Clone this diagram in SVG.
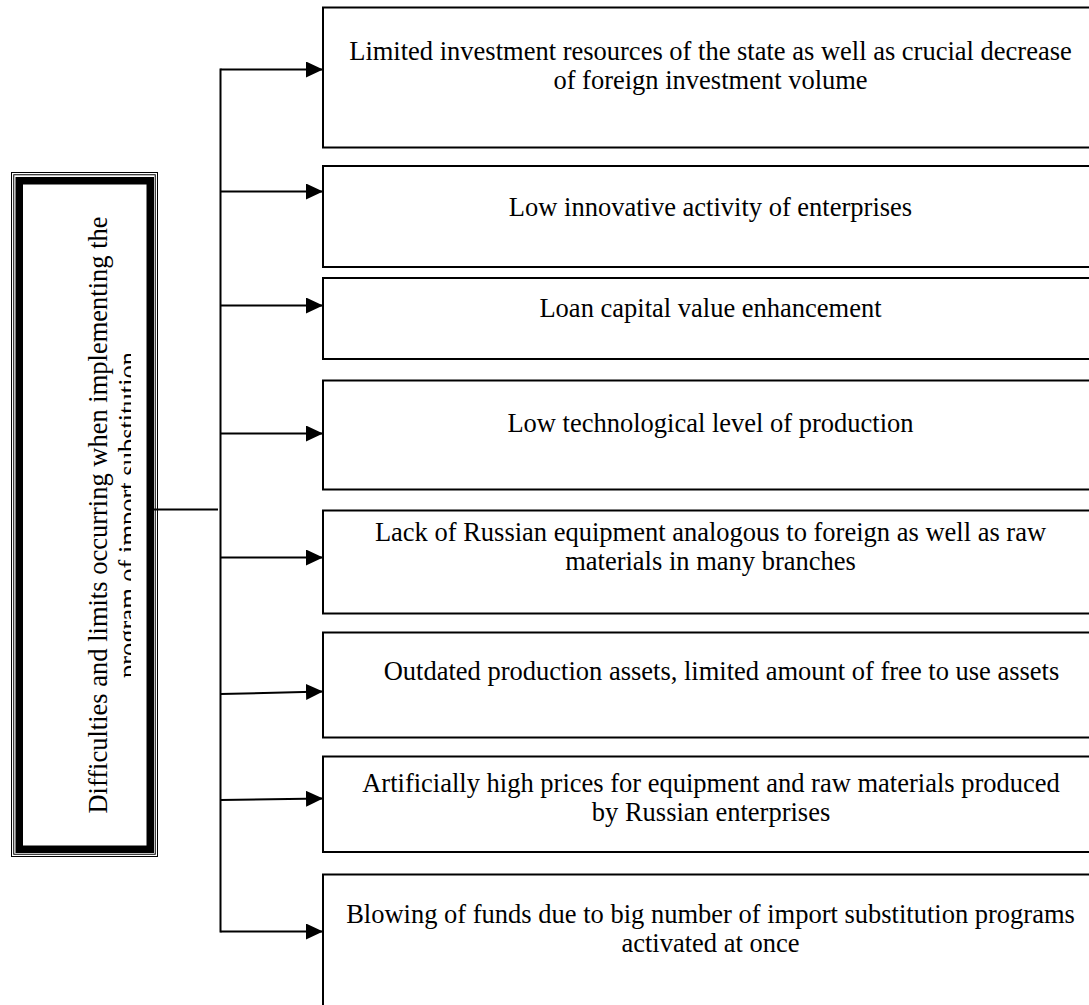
<svg xmlns="http://www.w3.org/2000/svg" width="1089" height="1005" viewBox="0 0 1089 1005">
<style>
.box{fill:#fff;stroke:#000;stroke-width:2}
.t{font-family:"Liberation Serif","Times New Roman",serif;font-size:26.5px;fill:#000;text-anchor:middle}
.c{stroke:#000;stroke-width:2;fill:none}
.ca{stroke:#000;stroke-width:2;fill:none;marker-end:url(#ah)}
</style>
<defs>
<marker id="ah" markerUnits="userSpaceOnUse" markerWidth="17" markerHeight="16" refX="17" refY="8" orient="auto" viewBox="0 0 17 16">
<path d="M0,0 L17,8 L0,16 z" fill="#000"/>
</marker>
<clipPath id="lclip"><rect x="23" y="185" width="108" height="664"/></clipPath>
</defs>
<rect width="1089" height="1005" fill="#fff"/>
<g id="main">
<rect x="11.5" y="172.5" width="146" height="684" fill="#fff" stroke="#000" stroke-width="1"/>
<rect x="13.75" y="174.75" width="141.5" height="679.5" fill="none" stroke="#000" stroke-width="1"/>
<rect x="19.25" y="180.75" width="131" height="668.5" fill="none" stroke="#000" stroke-width="7.5"/>
<g clip-path="url(#lclip)">
<text class="t" transform="translate(107,515) rotate(-90)">Difficulties and limits occurring when implementing the</text>
<text class="t" transform="translate(137,515) rotate(-90)">program of import substitution</text>
</g>
</g>
<g id="connectors">
<line class="c" x1="153" y1="509.5" x2="218" y2="509.5"/>
<line class="c" x1="220.5" y1="68.5" x2="220.5" y2="932.5"/>
<line class="ca" x1="220.5" y1="69.5" x2="323" y2="69.5"/>
<line class="ca" x1="220.5" y1="191.5" x2="323" y2="191.5"/>
<line class="ca" x1="220.5" y1="305.5" x2="323" y2="305.5"/>
<line class="ca" x1="220.5" y1="433.5" x2="323" y2="433.5"/>
<line class="ca" x1="220.5" y1="557.5" x2="323" y2="557.5"/>
<line class="ca" x1="220.5" y1="694" x2="323" y2="691.5"/>
<line class="ca" x1="220.5" y1="800" x2="323" y2="798.5"/>
<line class="ca" x1="220.5" y1="931.5" x2="323" y2="931.5"/>
</g>
<g id="n1"><rect class="box" x="323" y="7.5" width="800" height="140"/>
<text class="t" x="710.5" y="60">Limited investment resources of the state as well as crucial decrease</text>
<text class="t" x="710.5" y="89">of foreign investment volume</text></g>
<g id="n2"><rect class="box" x="323" y="166" width="800" height="101"/>
<text class="t" x="710.5" y="216">Low innovative activity of enterprises</text></g>
<g id="n3"><rect class="box" x="323" y="278" width="800" height="81"/>
<text class="t" x="710.5" y="317">Loan capital value enhancement</text></g>
<g id="n4"><rect class="box" x="323" y="380.5" width="800" height="109"/>
<text class="t" x="710.5" y="432">Low technological level of production</text></g>
<g id="n5"><rect class="box" x="323" y="510.5" width="800" height="103"/>
<text class="t" x="710.5" y="541">Lack of Russian equipment analogous to foreign as well as raw</text>
<text class="t" x="710.5" y="570">materials in many branches</text></g>
<g id="n6"><rect class="box" x="323" y="632.5" width="800" height="105"/>
<text class="t" x="721.5" y="680">Outdated production assets, limited amount of free to use assets</text></g>
<g id="n7"><rect class="box" x="323" y="756.5" width="800" height="95.5"/>
<text class="t" x="711" y="792">Artificially high prices for equipment and raw materials produced</text>
<text class="t" x="711" y="821">by Russian enterprises</text></g>
<g id="n8"><rect class="box" x="323" y="874.5" width="800" height="200"/>
<text class="t" x="710.5" y="923">Blowing of funds due to big number of import substitution programs</text>
<text class="t" x="710.5" y="952">activated at once</text></g>
</svg>
